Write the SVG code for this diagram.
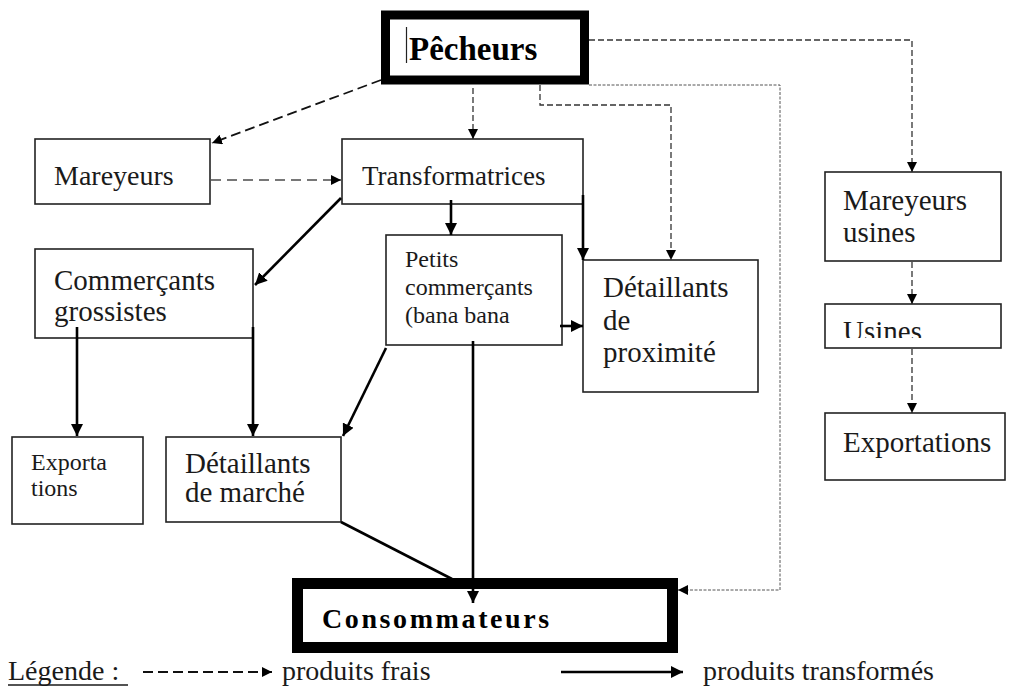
<svg xmlns="http://www.w3.org/2000/svg" width="1011" height="687" viewBox="0 0 1011 687">
<defs>
<style>
.box{fill:#fff;stroke:#222;stroke-width:1.6}
.big{fill:#fff;stroke:#000}
.t{font-family:"Liberation Serif","Times New Roman",serif;fill:#1a1a1a}
.b{font-weight:bold;fill:#000}
.solid{fill:none;stroke:#000;stroke-width:2.6}
.dash{fill:none;stroke:#111;stroke-width:1.8;stroke-dasharray:10 5}
.gdash{fill:none;stroke:#777;stroke-width:1.8;stroke-dasharray:10 6}
.fine{fill:none;stroke:#333;stroke-width:1.3;stroke-dasharray:6 3}
.dot{fill:none;stroke:#555;stroke-width:1;stroke-dasharray:3 1.5}
</style>
<marker id="ah" viewBox="0 0 10 10" refX="10" refY="5" markerWidth="10" markerHeight="10" markerUnits="userSpaceOnUse" orient="auto">
<path d="M0,0 L10,5 L0,10 z" fill="#000"/>
</marker>
<marker id="ahs" viewBox="0 0 10 10" refX="10" refY="5" markerWidth="12" markerHeight="12" markerUnits="userSpaceOnUse" orient="auto">
<path d="M0,0 L10,5 L0,10 z" fill="#000"/>
</marker>
<clipPath id="usclip"><rect x="825" y="304" width="176" height="34"/></clipPath>
</defs>
<rect width="1011" height="687" fill="#fff"/>

<g id="pecheurs">
<rect class="big" x="385.5" y="15" width="199" height="65" stroke-width="9"/>
<line x1="406.5" y1="27" x2="406.5" y2="63" stroke="#222" stroke-width="1.2"/>
<text class="t b" x="409" y="60" font-size="33">Pêcheurs</text>
</g>

<g id="mareyeurs">
<rect class="box" x="35" y="139" width="175" height="65"/>
<text class="t" x="54" y="185" font-size="28">Mareyeurs</text>
</g>

<g id="transformatrices">
<rect class="box" x="342" y="139" width="241" height="65"/>
<text class="t" x="362" y="185" font-size="27">Transformatrices</text>
</g>

<g id="mareyeurs-usines">
<rect class="box" x="825" y="172" width="176" height="89"/>
<text class="t" x="843" y="210" font-size="29">Mareyeurs</text>
<text class="t" x="843" y="242" font-size="29">usines</text>
</g>

<g id="usines">
<rect class="box" x="825" y="304" width="176" height="44"/>
<text class="t" x="843" y="341" font-size="29" clip-path="url(#usclip)">Usines</text>
</g>

<g id="exportations-usines">
<rect class="box" x="825" y="413" width="180" height="67"/>
<text class="t" x="843" y="452" font-size="29">Exportations</text>
</g>

<g id="commercants-grossistes">
<rect class="box" x="35" y="249" width="218" height="89"/>
<text class="t" x="54" y="290" font-size="29">Commerçants</text>
<text class="t" x="54" y="321" font-size="29">grossistes</text>
</g>

<g id="petits-commercants">
<rect class="box" x="386" y="235" width="176" height="110"/>
<text class="t" x="405" y="267" font-size="24">Petits</text>
<text class="t" x="405" y="295" font-size="24">commerçants</text>
<text class="t" x="405" y="323" font-size="24">(bana bana</text>
</g>

<g id="detaillants-proximite">
<rect class="box" x="583" y="260" width="175" height="132"/>
<text class="t" x="603" y="297" font-size="29">Détaillants</text>
<text class="t" x="603" y="330" font-size="29">de</text>
<text class="t" x="603" y="362" font-size="29">proximité</text>
</g>

<g id="exportations">
<rect class="box" x="12" y="437" width="131" height="87"/>
<text class="t" x="31" y="470" font-size="24">Exporta</text>
<text class="t" x="31" y="496" font-size="24">tions</text>
</g>

<g id="detaillants-marche">
<rect class="box" x="166" y="437" width="175" height="85"/>
<text class="t" x="185" y="473" font-size="29">Détaillants</text>
<text class="t" x="185" y="502" font-size="29">de marché</text>
</g>

<g id="consommateurs">
<rect class="big" x="297.5" y="583.5" width="375" height="64" stroke-width="11"/>
<text class="t b" x="322" y="628" font-size="28" letter-spacing="2.6">Consommateurs</text>
</g>

<g id="connectors">
<line class="dash" x1="381" y1="80" x2="212" y2="143" marker-end="url(#ah)"/>
<line class="fine" x1="473" y1="88" x2="473" y2="139" marker-end="url(#ah)"/>
<line class="gdash" x1="211" y1="180" x2="341" y2="180" marker-end="url(#ah)"/>
<polyline class="fine" points="589,40 912,40 912,172" marker-end="url(#ah)"/>
<polyline class="fine" points="540,85 540,105 671,105 671,260" marker-end="url(#ah)"/>
<polyline class="dot" points="589,85 780,85 780,590 678,590" marker-end="url(#ah)"/>
<line class="fine" x1="912" y1="262" x2="912" y2="304" marker-end="url(#ah)"/>
<line class="fine" x1="912" y1="349" x2="912" y2="413" marker-end="url(#ah)"/>
<line class="solid" x1="451" y1="200" x2="451" y2="235" marker-end="url(#ahs)"/>
<line class="solid" x1="583" y1="195" x2="583" y2="260" marker-end="url(#ahs)"/>
<line class="solid" x1="341" y1="198" x2="255" y2="285" marker-end="url(#ahs)"/>
<line class="solid" x1="560" y1="326" x2="583" y2="326" marker-end="url(#ahs)"/>
<line class="solid" x1="77" y1="327" x2="77" y2="436" marker-end="url(#ahs)"/>
<line class="solid" x1="253" y1="327" x2="253" y2="436" marker-end="url(#ahs)"/>
<line class="solid" x1="386" y1="348" x2="343" y2="436" marker-end="url(#ahs)"/>
<line class="solid" x1="473" y1="341" x2="473" y2="603" marker-end="url(#ahs)"/>
<line class="solid" x1="341" y1="522" x2="452" y2="579"/>
</g>

<g id="legende">
<text class="t" x="8" y="680" font-size="28">Légende :</text>
<line x1="8" y1="685" x2="128" y2="685" stroke="#1a1a1a" stroke-width="1.3"/>
<line class="dash" x1="143" y1="672" x2="272" y2="672" stroke-dasharray="11 5" marker-end="url(#ah)"/>
<text class="t" x="282" y="680" font-size="28">produits frais</text>
<line class="solid" x1="561" y1="672" x2="683" y2="672" marker-end="url(#ahs)"/>
<text class="t" x="703" y="680" font-size="28">produits transformés</text>
</g>
</svg>
